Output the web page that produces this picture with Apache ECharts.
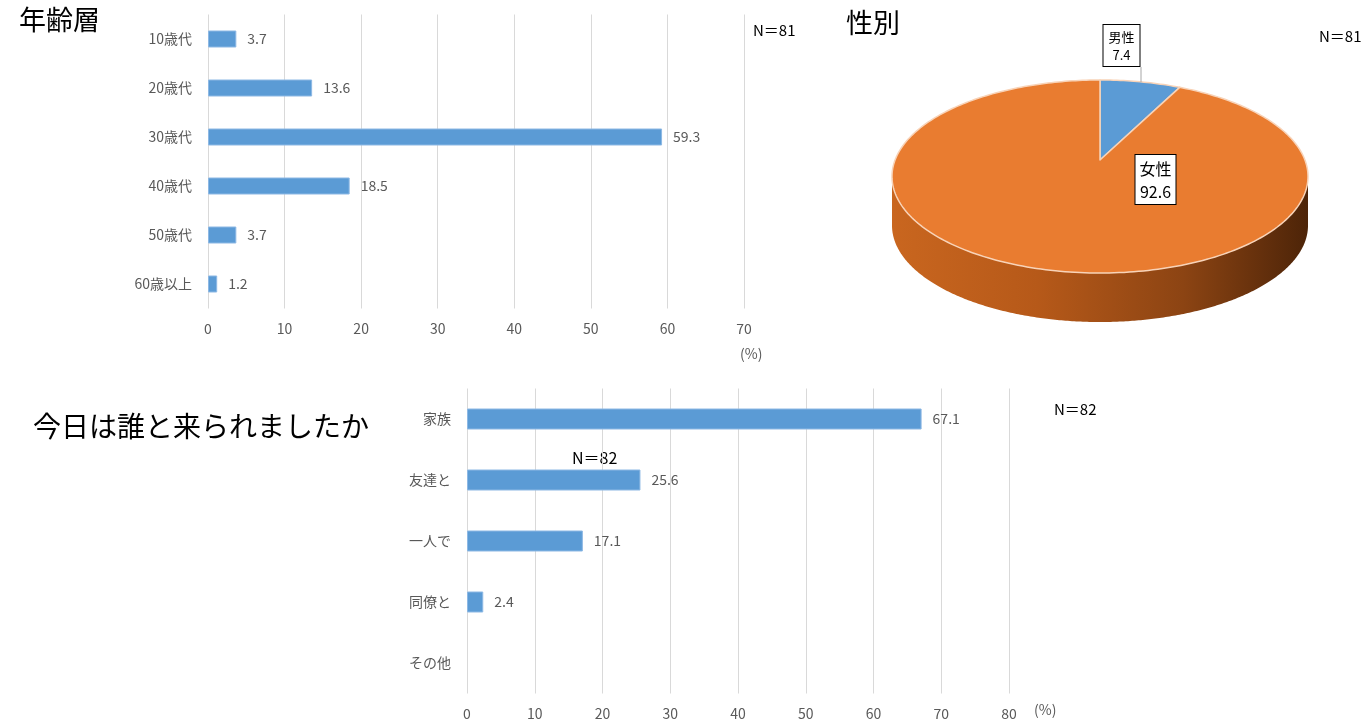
<!DOCTYPE html>
<html><head><meta charset="utf-8">
<script src="https://cdn.jsdelivr.net/npm/echarts@6/dist/echarts.min.js"></script>
<style>html,body{margin:0;padding:0;background:#fff}#c{width:1364px;height:724px}</style>
</head><body><div id="c"></div>
<script>
const ageCats = ['10歳代','20歳代','30歳代','40歳代','50歳代','60歳以上'];
const ageVals = [3.7, 13.6, 59.3, 18.5, 3.7, 1.2];
const genderNames = ['男性','女性'];
const genderVals = [7.4, 92.6];
const compCats = ['家族','友達と','一人で','同僚と','その他'];
const compVals = [67.1, 25.6, 17.1, 2.4, 0];

const FF = '"Noto Sans CJK JP", "Noto Sans", sans-serif';
const GREY = '#595959';
const BLUE = '#5B9BD5';

const chart = echarts.init(document.getElementById('c'));

function valAxis(gi, max) {
  return {
    gridIndex: gi, type: 'value', min: 0, max: max, interval: 10,
    axisLine: {show: false}, axisTick: {show: false},
    splitLine: {lineStyle: {color: '#d9d9d9', width: 1}},
    axisLabel: {color: GREY, fontSize: 14, fontFamily: FF, margin: 13}
  };
}
function catAxis(gi, cats) {
  return {
    gridIndex: gi, type: 'category', data: cats, inverse: true,
    axisLine: {show: false}, axisTick: {show: false},
    axisLabel: {color: GREY, fontSize: 14, fontFamily: FF, margin: 16}
  };
}
function barLabel() {
  return {
    show: true, position: 'right', distance: 11, color: GREY, fontSize: 14, fontFamily: FF,
    formatter: p => (p.value ? String(p.value) : '')
  };
}
const barData = arr => arr.map(v => v ? v : {value: v, itemStyle: {borderWidth: 0}});

// pie geometry (layout): perspective-projected disc
const P = {ax: 1100, ay: 160, W: 208, H: 93.7, k: 0.171, depth: 49};
function rawPt(theta) {
  const d = 1 + P.k * Math.cos(theta);
  return [Math.sin(theta) / d, -Math.cos(theta) / d];
}
// normalise horizontal extent so the widest point is W
let maxRaw = 0;
for (let s = 0; s <= 720; s++) maxRaw = Math.max(maxRaw, Math.abs(rawPt(s / 720 * Math.PI * 2)[0]));
function ept(theta, dy) {
  const r = rawPt(theta);
  return [P.ax + P.W * r[0] / maxRaw, P.ay + P.H * r[1] + (dy || 0)];
}
const genderTotal = genderVals.reduce((a, b) => a + b, 0);

function renderPie(params, api) {
  const i = params.dataIndex;
  let start = 0;
  for (let k = 0; k < i; k++) start += genderVals[k];
  const v = api.value(0);
  const a0 = start / genderTotal * Math.PI * 2;
  const a1 = (start + v) / genderTotal * Math.PI * 2;
  const children = [];
  const frontCovered = a0 <= Math.PI / 2 && a1 >= Math.PI * 1.5;
  if (frontCovered) {
    // locate silhouette extremes
    const M = 720;
    let iR = 0, iL = 0, xr = -1e9, xl = 1e9;
    for (let s = 0; s <= M; s++) {
      const p = ept(s / M * Math.PI * 2);
      if (p[0] > xr) { xr = p[0]; iR = s; }
      if (p[0] < xl) { xl = p[0]; iL = s; }
    }
    const pts = [];
    for (let s = iR; s <= iL; s++) pts.push(ept(s / M * Math.PI * 2));
    for (let s = iL; s >= iR; s--) pts.push(ept(s / M * Math.PI * 2, P.depth));
    children.push({
      type: 'polygon', z2: 0, shape: {points: pts},
      style: {
        fill: {type: 'linear', x: 0, y: 0, x2: 1, y2: 0, colorStops: [
          {offset: 0, color: '#c9661f'}, {offset: 0.35, color: '#b65919'},
          {offset: 0.7, color: '#8c4413'}, {offset: 1, color: '#4d2408'}]},
        stroke: null
      }
    });
  }
  const pts = [[P.ax, P.ay]];
  const N = Math.max(4, Math.ceil((a1 - a0) / 0.02));
  for (let s = 0; s <= N; s++) pts.push(ept(a0 + (a1 - a0) * s / N));
  children.push({
    type: 'polygon', z2: 2, shape: {points: pts},
    style: {fill: i === 0 ? BLUE : '#E97C30', stroke: '#F8D3B8', lineWidth: 1.5, lineJoin: 'round'}
  });
  const name = genderNames[i];
  if (i === 0) {
    // leader line from box corner down to the rim
    let yRim = P.ay - P.H;
    for (let s = 0; s <= 400; s++) {
      const p = ept(s / 400 * (a1 - a0) + a0);
      if (p[0] >= 1141) { yRim = p[1]; break; }
    }
    children.push({type: 'line', z2: 5, shape: {x1: 1141, y1: 67, x2: 1141, y2: yRim},
      style: {stroke: '#a6a6a6', lineWidth: 1}});
    children.push({type: 'text', z2: 6, style: {
      text: name + '\n' + v, x: 1121.5, y: 25, align: 'center', verticalAlign: 'top',
      font: '13px ' + FF, fill: '#000', lineHeight: 18,
      backgroundColor: '#fff', borderColor: '#000', borderWidth: 1, padding: [3, 5, 2, 5]
    }});
  } else {
    children.push({type: 'text', z2: 6, style: {
      text: name + '\n' + v, x: 1155.5, y: 155, align: 'center', verticalAlign: 'top',
      font: '16px ' + FF, fill: '#000', lineHeight: 23,
      backgroundColor: '#fff', borderColor: '#000', borderWidth: 1, padding: [2, 4, 1, 4]
    }});
  }
  return {type: 'group', children: children};
}

const txt = (t, x, y, size, color) => ({
  type: 'text', left: x, top: y,
  style: {text: t, font: size + 'px ' + FF, fill: color || '#000'}
});

chart.setOption({
  animation: false,
  backgroundColor: '#fff',
  grid: [
    {left: 208, top: 14.5, width: 536, height: 294},
    {left: 467, top: 388.5, width: 542, height: 305}
  ],
  xAxis: [valAxis(0, 70), valAxis(1, 80)],
  yAxis: [catAxis(0, ageCats), catAxis(1, compCats)],
  series: [
    {type: 'bar', xAxisIndex: 0, yAxisIndex: 0, data: barData(ageVals), barWidth: 17,
      itemStyle: {color: BLUE, borderColor: '#8DB8E4', borderWidth: 1}, label: barLabel()},
    {type: 'bar', xAxisIndex: 1, yAxisIndex: 1, data: barData(compVals), barWidth: 21,
      itemStyle: {color: BLUE, borderColor: '#8DB8E4', borderWidth: 1}, label: barLabel()},
    {type: 'custom', coordinateSystem: 'none', renderItem: renderPie,
      data: genderVals.map((v, i) => ({name: genderNames[i], value: [v]}))}
  ],
  graphic: [
    txt('年齢層', 19, 6, 27),
    txt('性別', 846, 9, 27),
    txt('今日は誰と来られましたか', 33, 412, 28),
    txt('N＝81', 753, 23, 15),
    txt('N＝81', 1319, 29, 15),
    txt('N＝82', 1054, 402, 15),
    txt('N＝82', 572, 450, 16),
    txt('(%)', 740, 347, 14, GREY),
    txt('(%)', 1034, 703, 14, GREY)
  ]
});
</script>
</body></html>
